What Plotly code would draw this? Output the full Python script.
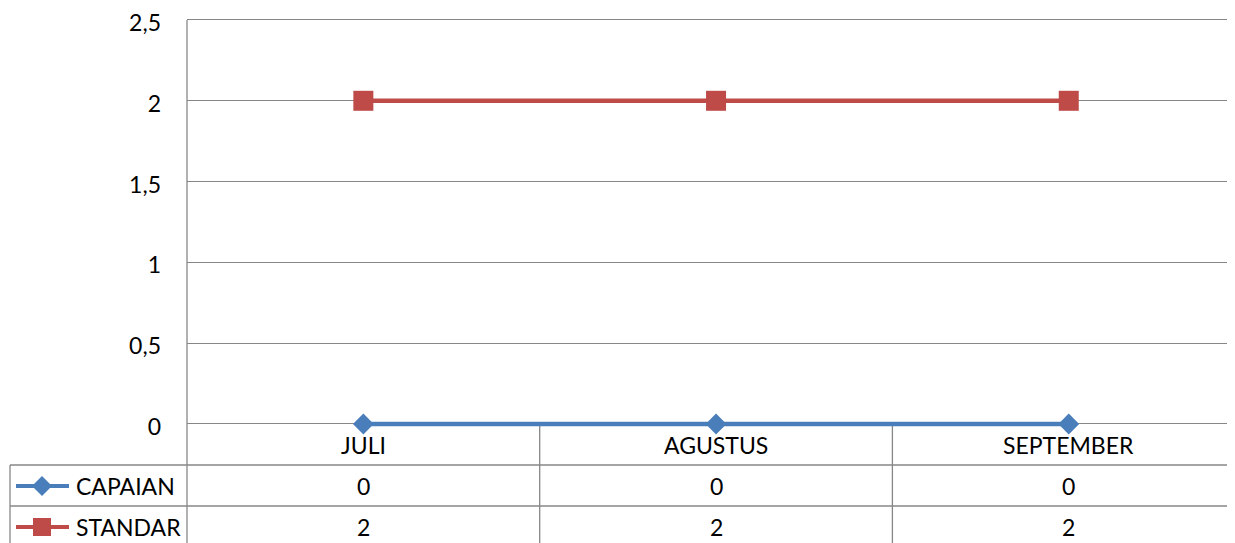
import plotly.graph_objects as go

categories = ["JULI", "AGUSTUS", "SEPTEMBER"]
capaian = [0, 0, 0]
standar = [2, 2, 2]
series_names = ["CAPAIAN", "STANDAR"]
y_ticks = [0, 0.5, 1, 1.5, 2, 2.5]

OFF = 8  # page body margin
W, H = 1235 - OFF, 543 - OFF
FONT = "Lato"
FS = 23
GRID = "#878787"
BLUE = "#4A7EBB"
RED = "#BE4B48"


def py(px):
    return 1 - (px - OFF) / H


def pxx(px):
    return (px - OFF) / W


x_left = 187
cat_w = 352.7
x_max = -0.5 + (1235 - x_left) / cat_w
y0_px, y25_px = 424, 20
unit = (y0_px - y25_px) / 2.5
y_lo, y_hi = -0.04, 2.54
bottom_px = y0_px - y_lo * unit
top_px = y25_px - (y_hi - 2.5) * unit

fig = go.Figure()
fig.add_trace(go.Scatter(x=categories, y=capaian, name=series_names[0], mode="lines+markers",
                         line=dict(color=BLUE, width=4.5),
                         marker=dict(symbol="diamond", size=16, color=BLUE), cliponaxis=False))
fig.add_trace(go.Scatter(x=categories, y=standar, name=series_names[1], mode="lines+markers",
                         line=dict(color=RED, width=4.5),
                         marker=dict(symbol="square", size=20, color=RED), cliponaxis=False))

shapes = []
annotations = []
for ypx in [465, 506]:
    shapes.append(dict(type="line", xref="paper", yref="paper", x0=pxx(10), x1=1,
                       y0=py(ypx), y1=py(ypx), line=dict(color=GRID, width=1.3), layer="below"))
shapes.append(dict(type="line", xref="paper", yref="paper", x0=pxx(10), x1=pxx(10),
                   y0=py(465), y1=0, line=dict(color=GRID, width=1.3), layer="below"))
shapes.append(dict(type="line", xref="paper", yref="paper", x0=pxx(x_left), x1=pxx(x_left),
                   y0=py(20), y1=0, line=dict(color=GRID, width=1.3), layer="below"))
for i in range(1, len(categories)):
    shapes.append(dict(type="line", xref="x", yref="paper", x0=i - 0.5, x1=i - 0.5,
                       y0=py(424), y1=0, line=dict(color=GRID, width=1.3), layer="below"))

row_y = [445, 486, 527]
tf = dict(size=FS, color="black", family=FONT)
for i, c in enumerate(categories):
    for r, txt in enumerate([c, str(capaian[i]), str(standar[i])]):
        annotations.append(dict(x=i, y=py(row_y[r]), xref="x", yref="paper", text=txt,
                                showarrow=False, xanchor="center", yanchor="middle", font=tf))

colors = [BLUE, RED]
for k, name in enumerate(series_names):
    yc = row_y[k + 1]
    shapes.append(dict(type="line", xref="paper", yref="paper", x0=pxx(16), x1=pxx(69),
                       y0=py(yc), y1=py(yc), line=dict(color=colors[k], width=4)))
    if k == 0:
        path = (f"M {pxx(42)} {py(yc-10)} L {pxx(52)} {py(yc)} L {pxx(42)} {py(yc+10)} "
                f"L {pxx(32)} {py(yc)} Z")
    else:
        path = (f"M {pxx(33)} {py(yc-9)} L {pxx(51)} {py(yc-9)} L {pxx(51)} {py(yc+9)} "
                f"L {pxx(33)} {py(yc+9)} Z")
    shapes.append(dict(type="path", xref="paper", yref="paper", path=path,
                       fillcolor=colors[k], line=dict(width=0)))
    annotations.append(dict(x=pxx(74), y=py(yc), xref="paper", yref="paper", text=name,
                            showarrow=False, xanchor="left", yanchor="middle", font=tf))

fig.update_layout(
    width=W, height=H,
    margin=dict(l=0, r=0, t=0, b=0, autoexpand=False),
    paper_bgcolor="white", plot_bgcolor="white",
    showlegend=False,
    separators=", ",
    font=dict(family=FONT, size=FS, color="black"),
    xaxis=dict(domain=[pxx(x_left), 1], range=[-0.5, x_max], showticklabels=False,
               showgrid=False, zeroline=False, showline=False, fixedrange=True,
               automargin=False),
    yaxis=dict(domain=[py(bottom_px), py(top_px)], range=[y_lo, y_hi], tickvals=y_ticks,
               showgrid=True, gridcolor=GRID, gridwidth=1.3, zeroline=False,
               showline=False, ticks="", ticklabelstandoff=25, automargin=False,
               ticklabeloverflow="allow", ticklabelshift=3, tickfont=tf),
    shapes=shapes, annotations=annotations,
)
fig.write_html("out.html")
